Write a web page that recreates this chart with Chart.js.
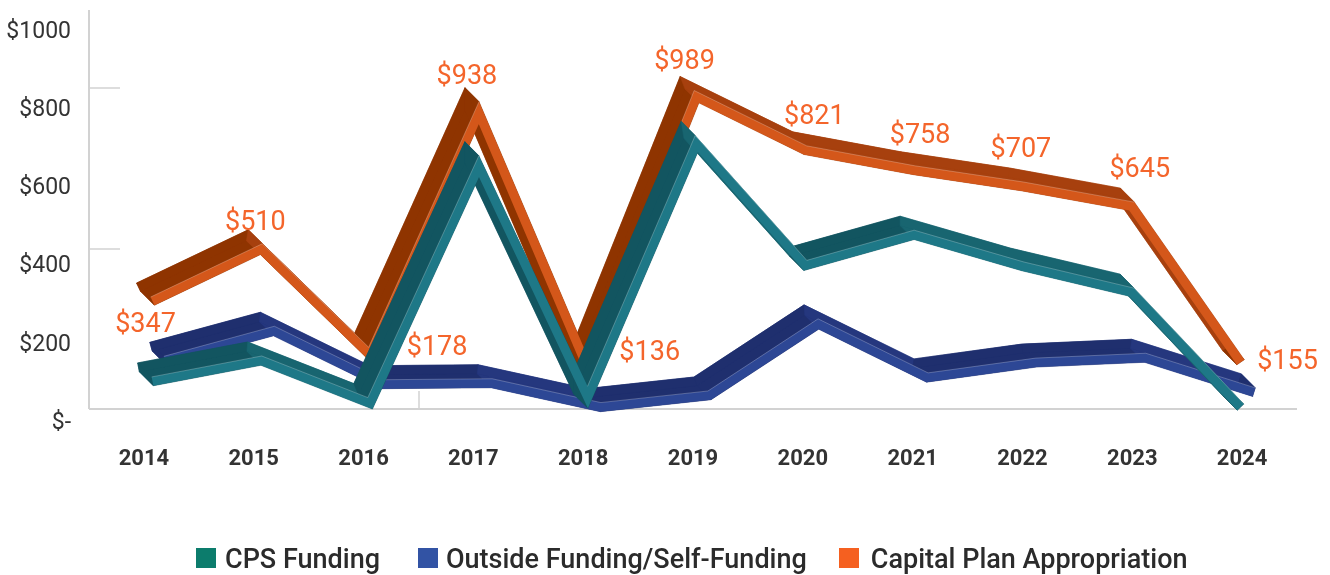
<!DOCTYPE html>
<html>
<head>
<meta charset="utf-8">
<style>
    html, body { margin: 0; background: #fff; overflow: hidden; }
    .wrap { position: relative; width: 1330px; height: 575px; }
    canvas { display: block; }
    .legend { position: absolute; left: 196px; top: 543px; display: flex; font: 500 27px Roboto, sans-serif; color: #2b2b2b; }
    .legend-item { display: flex; align-items: center; margin-right: 38px; white-space: nowrap; }
    .legend-item:nth-child(2) { margin-right: 32px; }
    .legend-box { width: 20px; height: 20px; margin-right: 9px; position: relative; top: -1px; }
    .legend-item:nth-child(2) .legend-box { margin-right: 8px; }
    .legend-item:last-child .legend-box { margin-right: 12px; }
</style>
</head>
<body>
<div class="wrap">
    <canvas id="chart" width="1330" height="575"></canvas>
    <div class="legend"></div>
</div>
<script src="https://cdn.jsdelivr.net/npm/chart.js@4/dist/chart.umd.min.js"></script>
<script>
const years = ["2014", "2015", "2016", "2017", "2018", "2019", "2020", "2021", "2022", "2023", "2024"]
const cpsFunding = [95, 160, 26, 770, 45, 841, 459, 555, 456, 375, 14]
const outsideFunding = [160, 253, 86, 89, 14, 51, 275, 107, 154, 169, 61]
const capitalPlan = [347, 510, 178, 938, 136, 989, 821, 758, 707, 645, 155]
const yTicks = [0, 200, 400, 600, 800, 1000]
const yTickLabels = ["$-", "$200", "$400", "$600", "$800", "$1000"]

// offsets of the orange value labels from their points
const labelOffsets = [[-7, 24], [-6, -26], [67, -7], [-12, -36], [62, -15], [-12, -34], [9, -33], [6, -34], [-2, -36], [8, -36], [47, 0]]

const ribbonWidth = 9
const depth = { x: -14, y: -14 }

const ribbons = [
    { front: "#1e7887", dark: "#125560", light: "#186570" },
    { front: "#2d4795", dark: "#1f2f6e", light: "#25377e" },
    { front: "#d4571a", dark: "#8f3400", light: "#a7400e" }
]

function toPoints(values) {
    return values.map((v, i) => ({ x: i, y: v }))
}

function quad(ctx, a, b, c, e, color) {
    ctx.fillStyle = color
    ctx.strokeStyle = color
    ctx.lineWidth = 0.5
    ctx.beginPath()
    ctx.moveTo(a.x, a.y)
    ctx.lineTo(b.x, b.y)
    ctx.lineTo(c.x, c.y)
    ctx.lineTo(e.x, e.y)
    ctx.closePath()
    ctx.fill()
    ctx.stroke()
}

function shift(p) {
    return { x: p.x + depth.x, y: p.y + depth.y }
}

// upper and lower edge of the ribbon, mitered at the joints
function ribbonEdges(points) {
    const normals = []
    for (let i = 0; i < points.length - 1; i++) {
        const dx = points[i + 1].x - points[i].x
        const dy = points[i + 1].y - points[i].y
        const len = Math.hypot(dx, dy)
        normals.push({ x: dy / len, y: -dx / len })
    }
    const top = []
    const bottom = []
    points.forEach((p, i) => {
        const n1 = normals[Math.max(i - 1, 0)]
        const n2 = normals[Math.min(i, normals.length - 1)]
        let mx = n1.x + n2.x
        let my = n1.y + n2.y
        const len = Math.hypot(mx, my)
        mx /= len
        my /= len
        const scale = (ribbonWidth / 2) / (mx * n1.x + my * n1.y)
        top.push({ x: p.x + mx * scale, y: p.y + my * scale })
        bottom.push({ x: p.x - mx * scale, y: p.y - my * scale })
    })
    return { top, bottom }
}

const ribbonPlugin = {
    id: "ribbon",
    beforeDatasetDraw(chart, args) {
        const ctx = chart.ctx
        const colors = ribbons[args.index]
        const points = args.meta.data.map(p => ({ x: p.x, y: p.y }))
        const { top, bottom } = ribbonEdges(points)
        ctx.save()
        for (let i = 0; i < points.length - 1; i++) {
            const slope = (points[i + 1].y - points[i].y) / (points[i + 1].x - points[i].x)
            const color = slope > 0 && slope < 1.5 ? colors.light : colors.dark
            quad(ctx, top[i], top[i + 1], shift(top[i + 1]), shift(top[i]), color)
            quad(ctx, bottom[i], bottom[i + 1], shift(bottom[i + 1]), shift(bottom[i]), color)
            quad(ctx, shift(top[i]), shift(top[i + 1]), shift(bottom[i + 1]), shift(bottom[i]), color)
        }
        const last = points.length - 1
        quad(ctx, top[0], bottom[0], shift(bottom[0]), shift(top[0]), colors.dark)
        quad(ctx, top[last], bottom[last], shift(bottom[last]), shift(top[last]), colors.dark)
        ctx.restore()
    },
    afterDatasetDraw(chart, args) {
        const ctx = chart.ctx
        const points = args.meta.data.map(p => ({ x: p.x, y: p.y }))
        const { top } = ribbonEdges(points)
        ctx.save()
        ctx.strokeStyle = "rgba(255,255,255,0.35)"
        ctx.lineWidth = 0.7
        for (let i = 0; i < points.length - 1; i++) {
            const slope = (points[i + 1].y - points[i].y) / (points[i + 1].x - points[i].x)
            if (slope > 1.2) continue
            ctx.beginPath()
            ctx.moveTo(top[i].x, top[i].y)
            ctx.lineTo(top[i + 1].x, top[i + 1].y)
            ctx.stroke()
        }
        ctx.restore()
    },
    afterDatasetsDraw(chart) {
        const ctx = chart.ctx
        const meta = chart.getDatasetMeta(2)
        ctx.save()
        ctx.fillStyle = "#f4652b"
        ctx.font = "27px Roboto, sans-serif"
        ctx.textAlign = "center"
        ctx.textBaseline = "middle"
        capitalPlan.forEach((v, i) => {
            const p = meta.data[i]
            ctx.fillText("$" + v, p.x + labelOffsets[i][0], p.y + labelOffsets[i][1])
        })
        ctx.restore()
    },
    beforeDatasetsDraw(chart) {
        // axis walls of the 3D frame
        const ctx = chart.ctx
        ctx.save()
        ctx.strokeStyle = "#d2d2d2"
        const lines = [
            [89, 10, 89, 409, 2], [89, 409, 1297, 409, 2],
            [89, 88, 120, 88, 1.5], [89, 249, 120, 249, 1.5],
            [419, 391, 419, 409, 1.5]
        ]
        lines.forEach(l => {
            ctx.lineWidth = l[4]
            ctx.beginPath()
            ctx.moveTo(l[0], l[1])
            ctx.lineTo(l[2], l[3])
            ctx.stroke()
        })
        ctx.restore()
    }
}

function lineDataset(label, values, swatch, color, xAxisID) {
    return {
        label: label,
        data: toPoints(values),
        xAxisID: xAxisID,
        yAxisID: "yData",
        backgroundColor: swatch,
        borderColor: color,
        borderWidth: ribbonWidth,
        borderJoinStyle: "miter",
        borderCapStyle: "butt",
        tension: 0,
        pointRadius: 0,
        clip: false
    }
}

const chart = new Chart(document.getElementById("chart"), {
    type: "line",
    data: {
        labels: years,
        datasets: [
            lineDataset("CPS Funding", cpsFunding, "#0c7c6c", ribbons[0].front, "xFront"),
            lineDataset("Outside Funding/Self-Funding", outsideFunding, "#3253a4", ribbons[1].front, "xBack"),
            lineDataset("Capital Plan Appropriation", capitalPlan, "#f56020", ribbons[2].front, "xFront")
        ]
    },
    options: {
        responsive: false,
        animation: false,
        layout: { padding: { top: 28, right: 33 } },
        plugins: {
            legend: { display: false },
            tooltip: { enabled: false }
        },
        scales: {
            x: {
                type: "category",
                offset: true,
                grid: { display: false, drawTicks: false },
                border: { display: false },
                ticks: {
                    color: "#333",
                    padding: 23,
                    maxRotation: 0,
                    font: { family: "Roboto", size: 22, weight: "bold" }
                },
                afterFit(scale) { scale.height = 152 }
            },
            y: {
                min: 0,
                max: 1000,
                grid: { display: false, drawTicks: false },
                border: { display: false },
                afterBuildTicks(scale) { scale.ticks = yTicks.map(v => ({ value: v })) },
                ticks: {
                    color: "#333",
                    padding: 18,
                    font: { family: "Roboto", size: 23 },
                    callback: v => yTickLabels[yTicks.indexOf(v)]
                },
                afterFit(scale) { scale.width = 89 }
            },
            // the ribbons sit on a receded plane, so they use their own hidden scales
            yData: { display: false, min: -35.8, max: 1192.8 },
            xFront: { type: "linear", display: false, min: -0.5837, max: 10.519 },
            xBack: { type: "linear", display: false, min: -0.698, max: 10.395 }
        }
    },
    plugins: [ribbonPlugin]
})

const legend = document.querySelector(".legend")
chart.data.datasets.forEach(ds => {
    const item = document.createElement("div")
    item.className = "legend-item"
    const box = document.createElement("span")
    box.className = "legend-box"
    box.style.background = ds.backgroundColor
    item.appendChild(box)
    item.appendChild(document.createTextNode(ds.label))
    legend.appendChild(item)
})
</script>
</body>
</html>
